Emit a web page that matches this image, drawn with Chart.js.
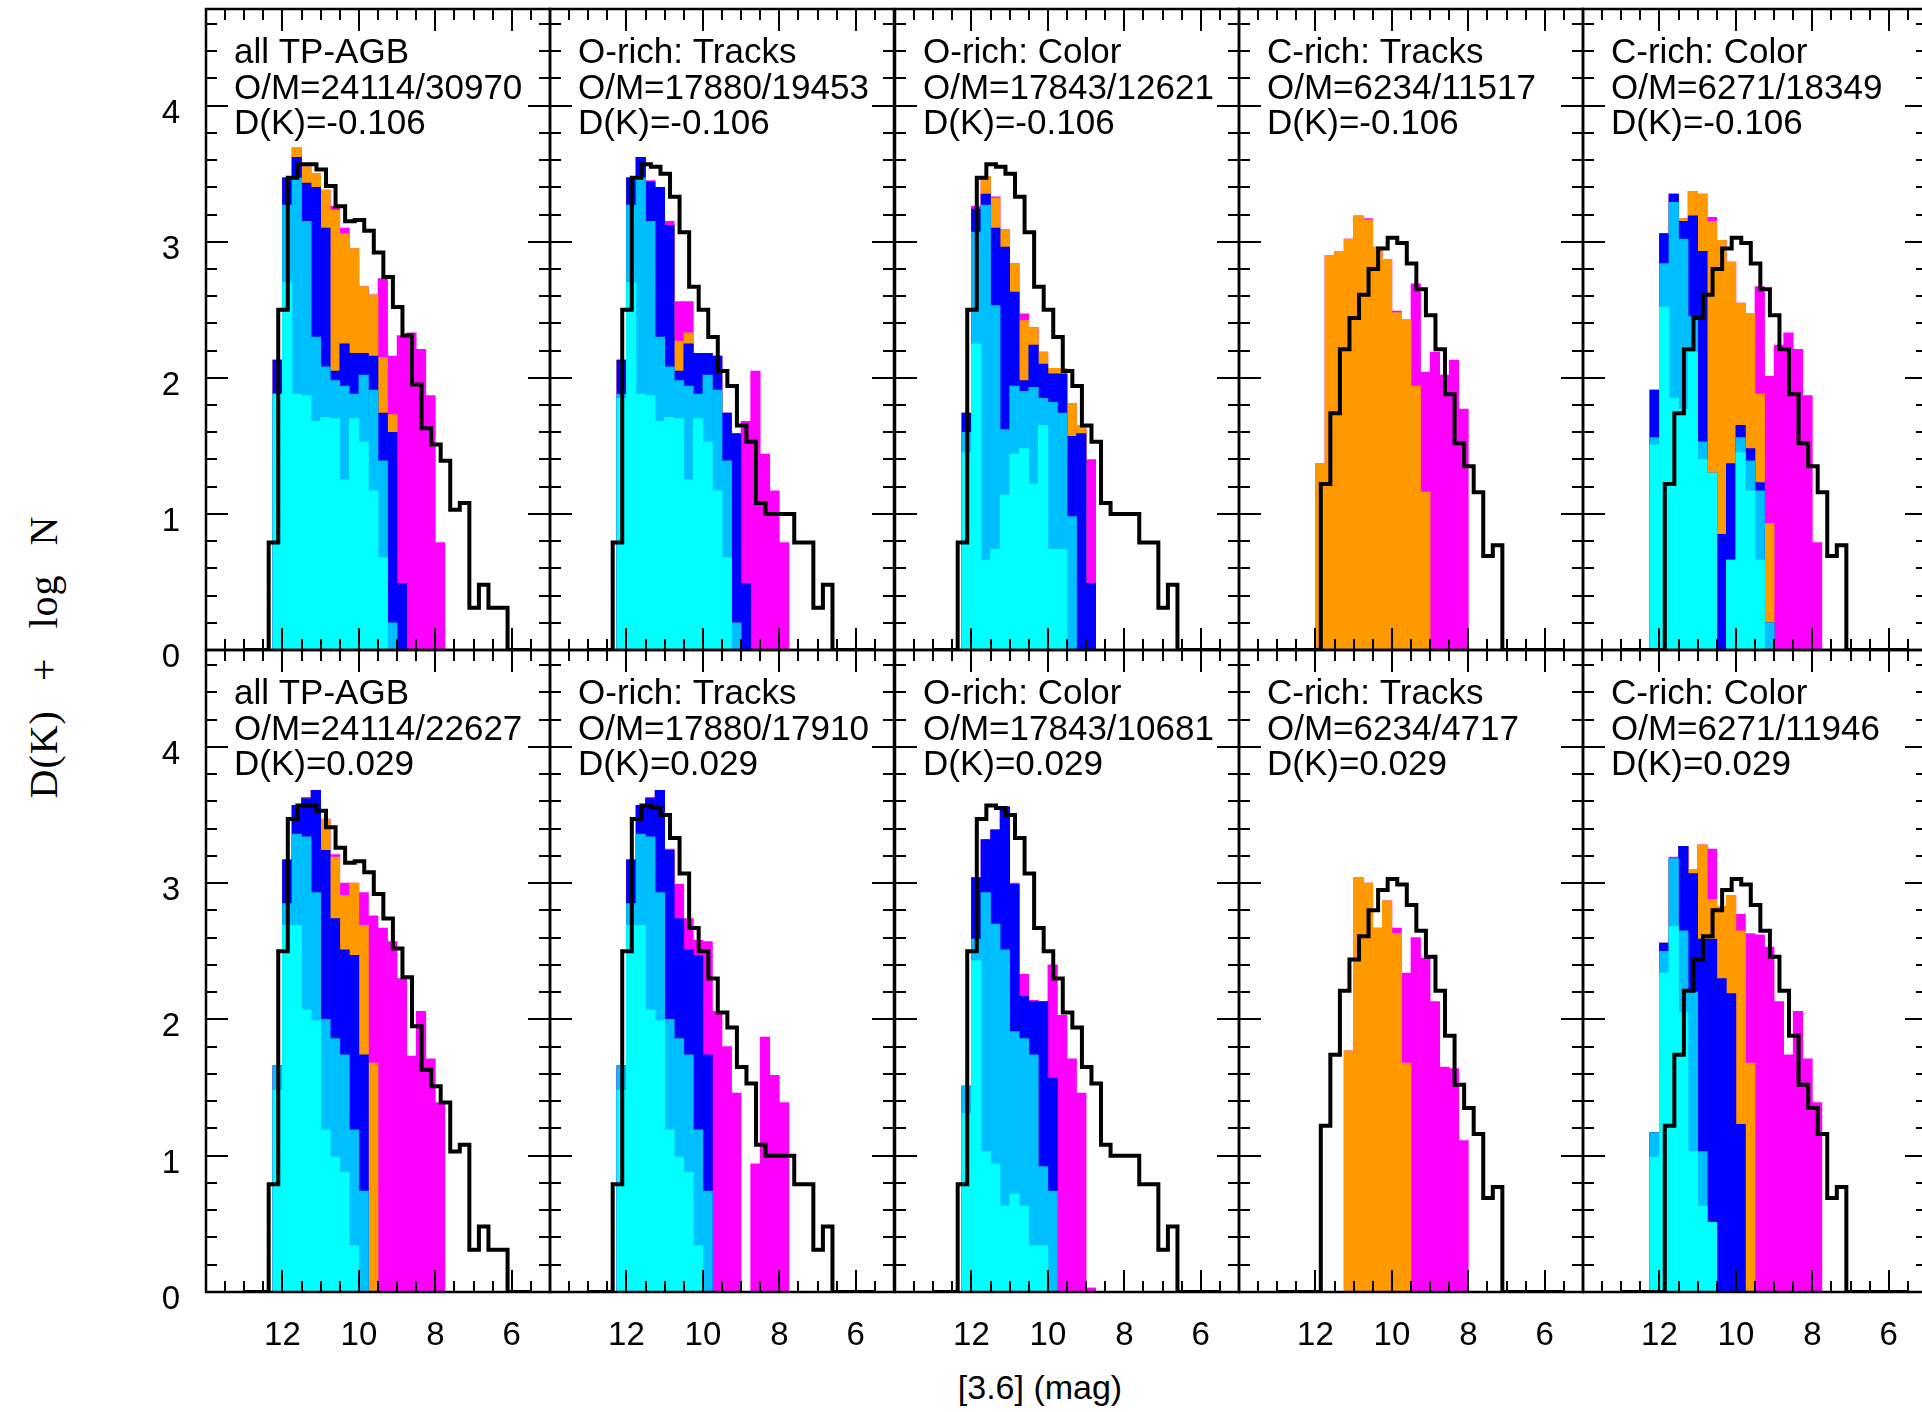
<!DOCTYPE html>
<html>
<head>
<meta charset="utf-8">
<script src="https://cdn.jsdelivr.net/npm/chart.js@4.4.1/dist/chart.umd.min.js"></script>
<style>
html, body { margin: 0; padding: 0; background: #fff; overflow: hidden; width: 1922px; height: 1412px; }
canvas { position: absolute; }
#ylab { position: absolute; left: 43px; top: 657px; transform: translate(-50%, -50%) rotate(-90deg);
        font-family: "Liberation Serif", serif; font-size: 40px; letter-spacing: 1px; word-spacing: 18px;
        white-space: nowrap; color: #000; }
#xlab { position: absolute; left: 1040px; top: 1387px; transform: translate(-50%, -50%);
        font-family: "Liberation Sans", Arial, sans-serif; font-size: 34px; white-space: nowrap; color: #000; }
</style>
</head>
<body>
<div id="ylab">D(K) + log N</div>
<div id="xlab">[3.6] (mag)</div>
<script>
(function() {

// bin centres, [3.6] mag
var COLOR_BINS = [12.125, 11.875, 11.625, 11.375, 11.125, 10.875, 10.625, 10.375, 10.125,
                  9.875, 9.625, 9.375, 9.125, 8.875, 8.625, 8.375, 8.125, 7.875];
var OBS_BINS = [12.985, 12.735, 12.485, 12.235, 11.985, 11.735, 11.485, 11.235, 10.985, 10.735,
                10.485, 10.235, 9.985, 9.735, 9.485, 9.235, 8.985, 8.735, 8.485, 8.235,
                7.985, 7.735, 7.485, 7.235, 6.985, 6.735, 6.485, 6.235, 5.985, 5.735, 5.485];
var X_TICKS = [6, 8, 10, 12];
var Y_TICKS = [0, 1, 2, 3, 4];

// observed histograms (black line)
var OBS_ALL   = [0, 0, 0, 0.79, 2.50, 3.47, 3.57, 3.57, 3.53, 3.41, 3.26, 3.15, 3.16, 3.08, 2.92, 2.74,
                 2.52, 2.31, 1.95, 1.63, 1.51, 1.39, 1.03, 1.08, 0.31, 0.48, 0.31, 0.31, 0, 0, 0];
var OBS_ORICH = [0, 0, 0, 0.79, 2.50, 3.47, 3.57, 3.55, 3.50, 3.33, 3.07, 2.67, 2.50, 2.30, 2.05, 1.94,
                 1.65, 1.53, 1.08, 1.00, 1.00, 1.00, 0.79, 0.79, 0.31, 0.48, 0, 0, 0, 0, 0];
var OBS_CRICH = [0, 0, 0, 0, 0, 1.22, 1.74, 2.21, 2.44, 2.61, 2.80, 2.95, 3.03, 2.99, 2.84, 2.65,
                 2.46, 2.21, 1.88, 1.52, 1.35, 1.16, 0.69, 0.77, 0, 0, 0, 0, 0, 0, 0];

// model, top row (D(K)=-0.106): cumulative tops of each colour layer
var all_top_cyan   = [1.88, 2.70, 1.88, 1.87, 1.68, 1.71, 1.70, 1.25, 1.70, 1.53, 1.17, 0.68, 0, 0, 0, 0, 0, 0];
var all_top_sky    = [1.88, 3.27, 3.47, 3.15, 2.30, 2.08, 1.98, 1.94, 1.88, 2.02, 1.91, 1.39, 0.20, 0, 0, 0, 0, 0];
var all_top_blue   = [2.13, 3.47, 3.62, 3.43, 3.40, 3.10, 2.05, 2.25, 2.18, 2.18, 2.16, 1.74, 1.60, 0.49, 0, 0, 0, 0];
var all_top_orange = [2.13, 3.47, 3.69, 3.55, 3.50, 3.38, 3.23, 3.06, 2.95, 2.67, 2.61, 2.15, 1.73, 0.49, 0, 0, 0, 0];
var all_top_mag    = [2.13, 3.47, 3.69, 3.55, 3.50, 3.38, 3.26, 3.10, 2.95, 2.67, 2.61, 2.73, 2.16, 2.31, 2.33, 2.21, 1.87, 0.79];

var otr_top_cyan   = [1.85, 2.70, 1.88, 1.87, 1.68, 1.71, 1.70, 1.25, 1.70, 1.53, 1.17, 0.68, 0, 0, 0, 0, 0, 0];
var otr_top_sky    = [1.88, 3.27, 3.47, 3.15, 2.30, 2.08, 1.98, 1.94, 1.88, 2.02, 1.91, 1.39, 0.20, 0, 0, 0, 0, 0];
var otr_top_blue   = [2.13, 3.47, 3.62, 3.44, 3.40, 3.12, 2.05, 2.25, 2.18, 2.18, 2.16, 1.74, 1.59, 0.49, 0, 0, 0, 0];
var otr_top_orange = [2.13, 3.47, 3.62, 3.44, 3.40, 3.12, 2.27, 2.33, 2.18, 2.18, 2.16, 1.74, 1.59, 0.49, 0, 0, 0, 0];
var otr_top_mag    = [2.13, 3.47, 3.62, 3.45, 3.40, 3.15, 2.56, 2.56, 2.18, 2.18, 2.16, 1.74, 1.59, 1.68, 2.05, 1.44, 1.17, 0.79];

var oco_top_cyan   = [1.45, 2.25, 0.66, 0.74, 1.14, 1.44, 1.48, 1.22, 1.65, 0.74, 0.74, 0, 0, 0, 0, 0, 0, 0];
var oco_top_sky    = [1.60, 3.07, 3.27, 2.53, 1.62, 1.94, 1.90, 1.93, 1.85, 1.82, 1.74, 0.98, 0, 0, 0, 0, 0, 0];
var oco_top_blue   = [1.74, 3.24, 3.35, 3.10, 2.96, 2.63, 1.98, 2.24, 2.10, 2.03, 2.03, 1.57, 1.59, 0.49, 0, 0, 0, 0];
var oco_top_orange = [1.74, 3.24, 3.48, 3.32, 3.09, 2.84, 2.42, 2.37, 2.19, 2.07, 2.07, 1.81, 1.65, 0.49, 0, 0, 0, 0];
var oco_top_mag    = [1.74, 3.26, 3.48, 3.33, 3.09, 2.84, 2.47, 2.37, 2.19, 2.07, 2.07, 1.81, 1.65, 1.40, 0, 0, 0, 0];

var ctr_top_orange = [0, 1.37, 2.90, 2.93, 3.02, 3.19, 3.16, 2.96, 2.87, 2.48, 2.43, 1.94, 1.16, 0, 0, 0, 0, 0];
var ctr_top_mag    = [0, 1.37, 2.90, 2.93, 3.02, 3.19, 3.17, 2.96, 2.87, 2.49, 2.43, 2.69, 2.04, 2.19, 2.02, 2.13, 1.77, 0];

var cco_top_cyan   = [1.51, 2.52, 1.85, 1.77, 2.19, 1.40, 1.30, 0, 0.66, 1.45, 1.17, 0.66, 0, 0, 0, 0, 0, 0];
var cco_top_sky    = [1.56, 2.84, 3.29, 3.02, 2.45, 1.53, 1.30, 0, 0.66, 1.56, 1.39, 1.17, 0.20, 0, 0, 0, 0, 0];
var cco_top_blue   = [1.91, 3.06, 3.35, 3.15, 3.19, 2.93, 1.30, 0.85, 1.37, 1.65, 1.48, 1.23, 0.20, 0, 0, 0, 0, 0];
var cco_top_orange = [1.91, 3.06, 3.35, 3.17, 3.37, 3.35, 3.15, 3.01, 2.85, 2.55, 2.47, 1.88, 0.93, 0, 0, 0, 0, 0];
var cco_top_mag    = [1.91, 3.06, 3.35, 3.17, 3.37, 3.35, 3.18, 3.01, 2.85, 2.55, 2.47, 2.67, 2.01, 2.24, 2.33, 2.21, 1.87, 0.79];

// model, bottom row (D(K)=0.029)
var all_bot_cyan   = [1.48, 2.69, 2.69, 2.07, 1.99, 1.19, 0.99, 0.88, 0.34, 0, 0, 0, 0, 0, 0, 0, 0, 0];
var all_bot_sky    = [1.66, 2.85, 3.36, 3.34, 2.93, 2.00, 1.86, 1.74, 1.19, 0.74, 0, 0, 0, 0, 0, 0, 0, 0];
var all_bot_blue   = [1.66, 3.17, 3.57, 3.62, 3.68, 3.24, 2.74, 2.51, 2.47, 1.74, 0, 0, 0, 0, 0, 0, 0, 0];
var all_bot_orange = [1.66, 3.17, 3.57, 3.62, 3.68, 3.47, 3.19, 2.91, 3.00, 2.69, 1.68, 0, 0, 0, 0, 0, 0, 0];
var all_bot_mag    = [1.66, 3.17, 3.57, 3.63, 3.68, 3.47, 3.21, 3.00, 3.00, 2.93, 2.76, 2.67, 2.57, 2.30, 1.73, 2.06, 1.71, 1.39];

var otr_bot_cyan   = [1.48, 2.69, 2.69, 2.07, 1.99, 1.19, 0.99, 0.88, 0.34, 0, 0, 0, 0, 0, 0, 0, 0, 0];
var otr_bot_sky    = [1.66, 2.85, 3.36, 3.34, 2.93, 2.00, 1.86, 1.74, 1.19, 0.74, 0, 0, 0, 0, 0, 0, 0, 0];
var otr_bot_blue   = [1.66, 3.17, 3.57, 3.62, 3.68, 3.24, 2.74, 2.51, 2.47, 1.74, 0, 0, 0, 0, 0, 0, 0, 0];
var otr_bot_mag    = [1.66, 3.17, 3.57, 3.63, 3.68, 3.25, 2.99, 2.74, 2.58, 2.57, 2.06, 1.80, 1.46, 0, 0.94, 1.87, 1.59, 1.39];

var oco_bot_cyan   = [1.31, 2.43, 1.03, 0.94, 0.63, 0.72, 0.63, 0.34, 0.34, 0, 0, 0, 0, 0, 0, 0, 0, 0];
var oco_bot_sky    = [1.51, 2.59, 2.93, 2.70, 2.51, 1.91, 1.86, 1.74, 0.92, 0.74, 0, 0, 0, 0, 0, 0, 0, 0];
var oco_bot_blue   = [1.51, 3.04, 3.32, 3.39, 3.56, 2.99, 2.17, 2.13, 2.13, 1.57, 0, 0, 0, 0, 0, 0, 0, 0];
var oco_bot_mag    = [1.51, 3.04, 3.32, 3.39, 3.56, 3.00, 2.33, 2.14, 2.13, 2.40, 2.03, 1.71, 1.46, 0.03, 0, 0, 0, 0];

var ctr_bot_orange = [0, 0, 0, 0, 1.77, 3.04, 3.00, 2.67, 2.87, 2.63, 1.68, 0, 0, 0, 0, 0, 0, 0];
var ctr_bot_mag    = [0, 0, 0, 0, 1.77, 3.04, 3.00, 2.67, 2.87, 2.67, 2.34, 2.60, 2.45, 2.13, 1.65, 1.64, 1.11, 0];

var cco_bot_cyan   = [0.99, 2.34, 2.68, 2.05, 1.03, 0.63, 0.51, 0, 0, 0, 0, 0, 0, 0, 0, 0, 0, 0];
var cco_bot_sky    = [1.17, 2.50, 3.18, 2.65, 2.20, 1.03, 0.51, 0, 0, 0, 0, 0, 0, 0, 0, 0, 0, 0];
var cco_bot_blue   = [1.17, 2.56, 3.18, 3.27, 3.07, 2.59, 2.59, 2.30, 2.19, 1.23, 0, 0, 0, 0, 0, 0, 0, 0];
var cco_bot_orange = [1.17, 2.56, 3.18, 3.27, 3.10, 3.28, 2.88, 2.83, 2.91, 2.65, 1.68, 0, 0, 0, 0, 0, 0, 0];
var cco_bot_mag    = [1.17, 2.56, 3.19, 3.27, 3.10, 3.28, 3.25, 2.83, 2.91, 2.77, 2.63, 2.62, 2.53, 2.13, 1.74, 2.06, 1.71, 1.39];

var TITLES = ['all TP-AGB', 'O-rich: Tracks', 'O-rich: Color', 'C-rich: Tracks', 'C-rich: Color'];
var OM_TOP = ['O/M=24114/30970', 'O/M=17880/19453', 'O/M=17843/12621', 'O/M=6234/11517', 'O/M=6271/18349'];
var OM_BOT = ['O/M=24114/22627', 'O/M=17880/17910', 'O/M=17843/10681', 'O/M=6234/4717', 'O/M=6271/11946'];
var DK_TOP = 'D(K)=-0.106';
var DK_BOT = 'D(K)=0.029';

// cyan, deep sky blue, blue, orange, magenta (front to back)
var LAYER_COLORS = ['#00ffff', '#00bfff', '#0000ff', '#ff9900', '#ff00ff'];

var PANEL_LEFT = [206, 550, 895, 1239, 1583];
var PANEL_TOP = [9, 650];
var PANEL_H = [641, 642];
var PANEL_W = 344;
var ML = 60, MR = 10, MT = 10, MB = 70;
var FONT = '"Liberation Sans", Arial, sans-serif';

var panels = [
    { col: 0, row: 0, obs: OBS_ALL,   lines: [TITLES[0], OM_TOP[0], DK_TOP], layers: [all_top_cyan, all_top_sky, all_top_blue, all_top_orange, all_top_mag] },
    { col: 1, row: 0, obs: OBS_ORICH, lines: [TITLES[1], OM_TOP[1], DK_TOP], layers: [otr_top_cyan, otr_top_sky, otr_top_blue, otr_top_orange, otr_top_mag] },
    { col: 2, row: 0, obs: OBS_ORICH, lines: [TITLES[2], OM_TOP[2], DK_TOP], layers: [oco_top_cyan, oco_top_sky, oco_top_blue, oco_top_orange, oco_top_mag] },
    { col: 3, row: 0, obs: OBS_CRICH, lines: [TITLES[3], OM_TOP[3], DK_TOP], layers: [null, null, null, ctr_top_orange, ctr_top_mag] },
    { col: 4, row: 0, obs: OBS_CRICH, lines: [TITLES[4], OM_TOP[4], DK_TOP], layers: [cco_top_cyan, cco_top_sky, cco_top_blue, cco_top_orange, cco_top_mag] },
    { col: 0, row: 1, obs: OBS_ALL,   lines: [TITLES[0], OM_BOT[0], DK_BOT], layers: [all_bot_cyan, all_bot_sky, all_bot_blue, all_bot_orange, all_bot_mag] },
    { col: 1, row: 1, obs: OBS_ORICH, lines: [TITLES[1], OM_BOT[1], DK_BOT], layers: [otr_bot_cyan, otr_bot_sky, otr_bot_blue, null, otr_bot_mag] },
    { col: 2, row: 1, obs: OBS_ORICH, lines: [TITLES[2], OM_BOT[2], DK_BOT], layers: [oco_bot_cyan, oco_bot_sky, oco_bot_blue, null, oco_bot_mag] },
    { col: 3, row: 1, obs: OBS_CRICH, lines: [TITLES[3], OM_BOT[3], DK_BOT], layers: [null, null, null, ctr_bot_orange, ctr_bot_mag] },
    { col: 4, row: 1, obs: OBS_CRICH, lines: [TITLES[4], OM_BOT[4], DK_BOT], layers: [cco_bot_cyan, cco_bot_sky, cco_bot_blue, cco_bot_orange, cco_bot_mag] }
];

// frame, inward ticks on all sides, and the three text lines
var framePlugin = {
    id: 'frame',
    afterDatasetsDraw: function(chart, args, opts) {
        var ctx = chart.ctx, a = chart.chartArea;
        var xs = chart.scales.x, ys = chart.scales.y;
        var v, i, p, len;
        ctx.save();
        ctx.strokeStyle = '#000';
        ctx.lineWidth = 2;
        ctx.beginPath();
        for (v = 13.5; v > 5.2; v -= 0.5) {
            p = Math.round(xs.getPixelForValue(v));
            len = (v % 2 === 0) ? 22 : 11;
            ctx.moveTo(p, a.bottom); ctx.lineTo(p, a.bottom - len);
            ctx.moveTo(p, a.top); ctx.lineTo(p, a.top + len);
        }
        for (i = 1; i < 24; i++) {
            p = Math.round(ys.getPixelForValue(i * 0.2));
            len = (i % 5 === 0) ? 22 : 11;
            ctx.moveTo(a.left, p); ctx.lineTo(a.left + len, p);
            ctx.moveTo(a.right, p); ctx.lineTo(a.right - len, p);
        }
        ctx.stroke();
        ctx.lineWidth = 2.5;
        ctx.strokeRect(a.left, a.top, a.right - a.left, a.bottom - a.top);

        ctx.fillStyle = '#000';
        ctx.font = '35px ' + FONT;
        ctx.textAlign = 'left';
        ctx.textBaseline = 'alphabetic';
        opts.lines.forEach(function(t, k) {
            ctx.fillText(t, a.left + 28, a.top + 54 + k * 35.5);
        });
        ctx.restore();
    }
};

function barData(vals) {
    return COLOR_BINS.map(function(x, i) { return { x: x, y: vals[i] > 0 ? vals[i] : null }; });
}

panels.forEach(function(pn) {
    var w = ML + PANEL_W + MR, h = MT + PANEL_H[pn.row] + MB;
    var cv = document.createElement('canvas');
    cv.width = w; cv.height = h;
    cv.style.left = (PANEL_LEFT[pn.col] - ML) + 'px';
    cv.style.top = (PANEL_TOP[pn.row] - MT) + 'px';
    cv.style.width = w + 'px'; cv.style.height = h + 'px';
    document.body.appendChild(cv);

    var datasets = [{
        type: 'line',
        data: OBS_BINS.map(function(x, i) { return { x: x, y: pn.obs[i] }; }),
        borderColor: '#000',
        borderWidth: 4,
        pointRadius: 0,
        stepped: 'middle',
        fill: false
    }];
    pn.layers.forEach(function(vals, k) {
        if (!vals) return;
        datasets.push({
            type: 'bar',
            data: barData(vals),
            backgroundColor: LAYER_COLORS[k],
            borderWidth: 0,
            grouped: false,
            barPercentage: 1,
            categoryPercentage: 1
        });
    });

    new Chart(cv, {
        type: 'bar',
        data: { datasets: datasets },
        plugins: [framePlugin],
        options: {
            responsive: false,
            animation: false,
            devicePixelRatio: 1,
            layout: { padding: { left: 0, right: MR, top: MT, bottom: 0 } },
            plugins: {
                legend: { display: false },
                tooltip: { enabled: false },
                frame: { lines: pn.lines }
            },
            scales: {
                x: {
                    type: 'linear', min: 5, max: 14, reverse: true, offset: false,
                    grid: { display: false, drawTicks: false, tickLength: 0 },
                    border: { display: false },
                    afterBuildTicks: function(s) { s.ticks = X_TICKS.map(function(v) { return { value: v }; }); },
                    afterFit: function(s) { s.height = MB; s.paddingLeft = 0; s.paddingRight = 0; },
                    ticks: {
                        display: pn.row === 1, autoSkip: false, maxRotation: 0, padding: 24,
                        color: '#000', font: { family: FONT, size: 33 }
                    }
                },
                y: {
                    type: 'linear', min: 0, max: 4.71,
                    grid: { display: false, drawTicks: false, tickLength: 0 },
                    border: { display: false },
                    afterBuildTicks: function(s) { s.ticks = Y_TICKS.map(function(v) { return { value: v }; }); },
                    afterFit: function(s) { s.width = ML; s.paddingTop = 0; s.paddingBottom = 0; },
                    ticks: {
                        display: pn.col === 0, padding: 26, labelOffset: 8,
                        color: '#000', font: { family: FONT, size: 33 }
                    }
                }
            }
        }
    });
});

})();
</script>
</body>
</html>
